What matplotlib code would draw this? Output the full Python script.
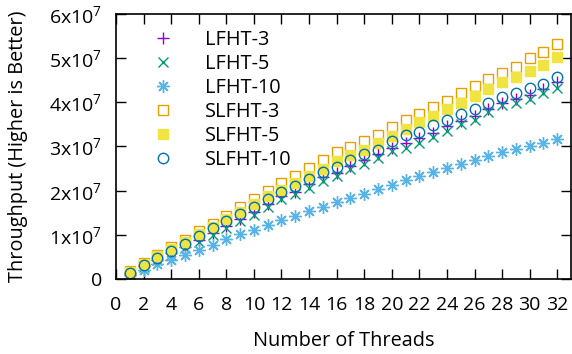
import matplotlib
matplotlib.use("Agg")
import matplotlib.pyplot as plt
from matplotlib.ticker import FuncFormatter, MultipleLocator

plt.rcParams['font.family'] = ['Open Sans', 'DejaVu Sans']
plt.rcParams['mathtext.default'] = 'regular'

threads = list(range(1, 33))

lfht_3 = [0.13, 0.30, 0.44, 0.58, 0.73, 0.88, 1.05, 1.20, 1.36, 1.52, 1.70, 1.87, 1.98, 2.14, 2.31, 2.40,
          2.55, 2.70, 2.82, 2.97, 3.08, 3.20, 3.31, 3.46, 3.58, 3.70, 3.84, 3.98, 4.08, 4.17, 4.30, 4.45]
lfht_5 = [0.12, 0.28, 0.42, 0.55, 0.70, 0.84, 1.00, 1.15, 1.31, 1.46, 1.64, 1.80, 1.93, 2.07, 2.21, 2.33,
          2.48, 2.61, 2.74, 2.89, 2.97, 3.08, 3.22, 3.35, 3.50, 3.61, 3.77, 3.93, 3.98, 4.07, 4.20, 4.32]
lfht_10 = [0.10, 0.21, 0.33, 0.44, 0.55, 0.66, 0.77, 0.91, 1.01, 1.12, 1.23, 1.33, 1.42, 1.53, 1.63, 1.75,
           1.83, 1.93, 2.03, 2.12, 2.23, 2.33, 2.43, 2.52, 2.60, 2.70, 2.78, 2.87, 2.95, 3.00, 3.07, 3.16]
slfht_3 = [0.18, 0.37, 0.55, 0.72, 0.88, 1.08, 1.25, 1.43, 1.63, 1.80, 2.00, 2.17, 2.33, 2.52, 2.69, 2.87,
           2.99, 3.12, 3.27, 3.45, 3.60, 3.73, 3.90, 4.03, 4.22, 4.36, 4.52, 4.67, 4.81, 5.01, 5.14, 5.31]
slfht_5 = [0.16, 0.34, 0.51, 0.67, 0.83, 1.01, 1.18, 1.35, 1.52, 1.69, 1.87, 2.02, 2.17, 2.33, 2.49, 2.67,
           2.80, 2.93, 3.08, 3.24, 3.39, 3.55, 3.70, 3.86, 3.98, 4.14, 4.30, 4.45, 4.58, 4.70, 4.85, 5.02]
slfht_10 = [0.13, 0.32, 0.47, 0.64, 0.80, 0.98, 1.15, 1.32, 1.47, 1.64, 1.82, 1.98, 2.11, 2.27, 2.42, 2.54,
            2.69, 2.82, 2.92, 3.12, 3.25, 3.33, 3.48, 3.60, 3.74, 3.86, 3.98, 4.11, 4.22, 4.33, 4.42, 4.575]

scale = 1e7
labels = ["LFHT-3", "LFHT-5", "LFHT-10", "SLFHT-3", "SLFHT-5", "SLFHT-10"]
series = [lfht_3, lfht_5, lfht_10, slfht_3, slfht_5, slfht_10]

styles = [
    dict(marker='+', color='#9400d3', ms=9, mew=1.0, mfc='none'),
    dict(marker='x', color='#009e73', ms=7.5, mew=1.0, mfc='none'),
    dict(marker=(8, 2, 0), color='#56b4e9', ms=9, mew=1.0, mfc='none'),
    dict(marker='s', color='#e69f00', ms=7, mew=1.0, mfc='none'),
    dict(marker='s', color='#f0e442', ms=7, mew=1.0, mfc='#f0e442'),
    dict(marker='o', color='#0072b2', ms=7.5, mew=1.0, mfc='none'),
]

fig = plt.figure(figsize=(5.72, 3.54), dpi=100)
ax = fig.add_axes([0.2028, 0.2119, 0.7955, 0.7486])

for lab, vals, st in zip(labels, series, styles):
    ax.plot(threads, [v * scale for v in vals], linestyle='none', label=lab,
            marker=st['marker'], markersize=st['ms'], markeredgewidth=st['mew'],
            markeredgecolor=st['color'], markerfacecolor=st['mfc'])

ax.set_xlim(0, 33)
ax.set_ylim(0, 6e7)
ax.xaxis.set_major_locator(MultipleLocator(2))
ax.yaxis.set_major_locator(MultipleLocator(1e7))

def yfmt(v, pos):
    n = int(round(v / 1e7))
    if n == 0:
        return "0"
    return f"{n}x10$^{{7}}$"

ax.yaxis.set_major_formatter(FuncFormatter(yfmt))

ax.tick_params(direction='in', length=7, width=1, top=True, right=True,
               labelsize=14, colors='black')
ax.tick_params(axis='x', pad=12.5)
ax.tick_params(axis='y', pad=10)
for s in ax.spines.values():
    s.set_linewidth(1.2)

ax.set_xlabel("Number of Threads", fontsize=14.3, va='baseline')
ax.xaxis.set_label_coords(0.5, -0.252)
ax.set_ylabel("Throughput (Higher is Better)", fontsize=14.3, va='baseline')
ax.yaxis.set_label_coords(-0.205, 0.5)

ax.legend(loc='upper left', bbox_to_anchor=(0.031, 0.97), frameon=False,
          fontsize=14.3, handletextpad=0.85, labelspacing=0.2, borderaxespad=0,
          handlelength=2.5)

fig.savefig("out.png", dpi=100)
